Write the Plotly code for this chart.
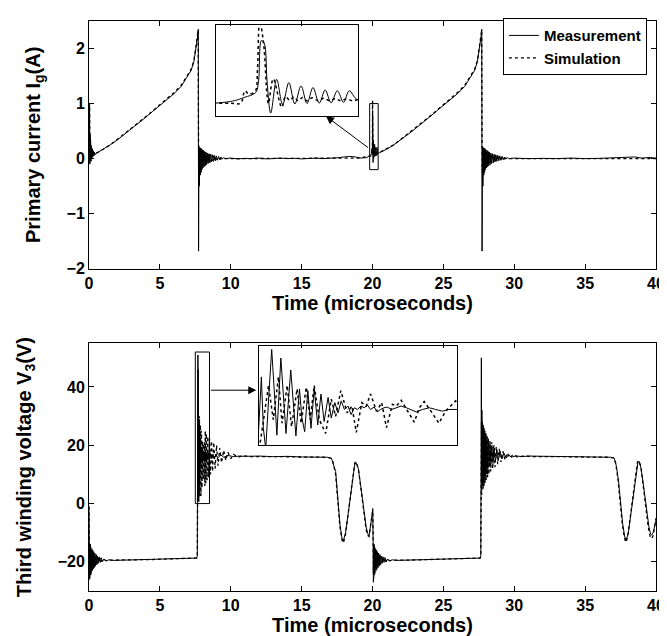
import plotly.graph_objects as go

# ---------------- Primary current I_g (A) ----------------
ig_meas_t = [0, 0.02, 0.04, 0.06, 0.08, 0.10, 0.12, 0.14, 0.17, 0.20, 0.23, 0.26, 0.30, 0.34, 0.38, 0.43, 0.5,
             0.6, 0.8, 1.0, 1.5, 2, 2.5, 3, 3.5, 4, 4.5, 5, 5.5, 6, 6.5, 7, 7.2, 7.4, 7.55, 7.65, 7.71,
             7.73, 7.76, 7.79, 7.82, 7.85, 7.88, 7.91, 7.94, 7.97, 8.0, 8.04, 8.08, 8.12, 8.16, 8.2, 8.25, 8.3,
             8.35, 8.4, 8.46, 8.52, 8.58, 8.64, 8.7, 8.77, 8.84, 8.91, 8.98, 9.06, 9.14, 9.22, 9.3, 9.4, 9.5, 9.6,
             10, 10.5, 11, 11.5, 12, 12.5, 13, 13.5, 14, 14.5, 15, 15.5, 16, 16.5, 17, 17.5, 18, 18.4, 18.8,
             19.2, 19.6, 19.9, 19.95, 19.99, 20.0, 20.01, 20.02, 20.03, 20.043, 20.064, 20.085, 20.107, 20.128,
             20.15, 20.171, 20.192, 20.214, 20.235, 20.256, 20.278, 20.3, 20.32, 20.35,
             20.5, 20.8, 21, 21.5, 22, 22.5, 23, 23.5, 24, 24.5, 25, 25.5, 26, 26.5, 27, 27.2, 27.4, 27.55,
             27.65, 27.71,
             27.73, 27.76, 27.79, 27.82, 27.85, 27.88, 27.91, 27.94, 27.97, 28.0, 28.04, 28.08, 28.12, 28.16,
             28.2, 28.25, 28.3, 28.35, 28.4, 28.46, 28.52, 28.58, 28.64, 28.7, 28.77, 28.84, 28.91, 28.98,
             29.06, 29.14, 29.22, 29.3, 29.4, 29.5, 29.6,
             30, 31, 32, 33, 34, 35, 36, 37, 38, 38.5, 39, 39.5, 40]
ig_meas_v = [0.0, 0.6, 1.0, -0.1, 0.45, -0.08, 0.3, -0.05, 0.22, 0.0, 0.18, 0.03, 0.14, 0.05, 0.12, 0.07, 0.1,
             0.11, 0.14, 0.17, 0.25, 0.34, 0.44, 0.54, 0.64, 0.75, 0.86, 0.97, 1.07, 1.18, 1.31, 1.5, 1.6, 1.76,
             2.0, 2.2, 2.35,
             -1.68, 0.22, -0.5, 0.2, -0.3, 0.19, -0.25, 0.18, -0.2, 0.16, -0.17, 0.15, -0.15, 0.13, -0.13, 0.12,
             -0.11, 0.1, -0.09, 0.09, -0.08, 0.08, -0.06, 0.07, -0.05, 0.06, -0.04, 0.05, -0.03, 0.04, -0.02,
             0.03, -0.01, 0.02, 0.0,
             0.01, -0.005, 0.005, 0.0, 0.01, -0.005, 0.0, 0.01, 0.0, 0.005, -0.005, 0.0, 0.01, 0.0, 0.005, 0.015,
             0.03, 0.04, 0.03, 0.01, 0.02, 0.07, 0.12, 0.18, 0.32, 0.81, 0.78, 0.32, -0.07, 0.34, 0.033, 0.3,
             0.04, 0.26, 0.045, 0.24, 0.05, 0.21, 0.055, 0.2, 0.06, 0.2, 0.09,
             0.11, 0.14, 0.17, 0.25, 0.34, 0.44, 0.54, 0.64, 0.75, 0.86, 0.97, 1.07, 1.18, 1.31, 1.5, 1.6, 1.76,
             2.0, 2.2, 2.35,
             -1.68, 0.22, -0.5, 0.2, -0.3, 0.19, -0.25, 0.18, -0.2, 0.16, -0.17, 0.15, -0.15, 0.13, -0.13, 0.12,
             -0.11, 0.1, -0.09, 0.09, -0.08, 0.08, -0.06, 0.07, -0.05, 0.06, -0.04, 0.05, -0.03, 0.04, -0.02,
             0.03, -0.01, 0.02, 0.0,
             0.01, 0.0, 0.005, 0.0, 0.01, 0.0, 0.005, 0.01, 0.02, 0.03, 0.01, 0.02, 0.01]

ig_sim_t = [0, 0.02, 0.04, 0.06, 0.08, 0.1, 0.13, 0.16, 0.2, 0.24, 0.28, 0.33, 0.38, 0.44, 0.5,
            0.6, 1.0, 1.5, 2, 2.5, 3, 3.5, 4, 4.5, 5, 5.5, 6, 6.5, 7, 7.2, 7.4, 7.55, 7.65, 7.7,
            7.73, 7.76, 7.79, 7.82, 7.86, 7.9, 7.94, 7.98, 8.02, 8.07, 8.12, 8.17, 8.22, 8.28, 8.34, 8.4, 8.47,
            8.54, 8.61, 8.69, 8.77, 8.85, 8.94, 9.03, 9.13, 9.25, 9.4, 9.6,
            10, 11, 12, 13, 14, 15, 16, 17, 18, 19, 19.9,
            19.937, 19.952, 19.966, 19.989, 19.996, 20.004, 20.018, 20.03, 20.035, 20.052, 20.082, 20.095, 20.11,
            20.125, 20.14, 20.155, 20.17, 20.19, 20.21, 20.23, 20.25, 20.27, 20.29, 20.31, 20.33, 20.35,
            20.5, 21.0, 21.5, 22, 22.5, 23, 23.5, 24, 24.5, 25, 25.5, 26, 26.5, 27, 27.2, 27.4, 27.55, 27.65, 27.7,
            27.73, 27.76, 27.79, 27.82, 27.86, 27.9, 27.94, 27.98, 28.02, 28.07, 28.12, 28.17, 28.22, 28.28,
            28.34, 28.4, 28.47, 28.54, 28.61, 28.69, 28.77, 28.85, 28.94, 29.03, 29.13, 29.25, 29.4, 29.6,
            30, 31, 32, 33, 34, 35, 36, 37, 38, 39, 40]
ig_sim_v = [0.0, 0.5, 0.95, 0.0, 0.35, -0.05, 0.25, 0.0, 0.18, 0.04, 0.14, 0.06, 0.11, 0.08, 0.1,
            0.11, 0.17, 0.25, 0.35, 0.45, 0.55, 0.65, 0.76, 0.87, 0.98, 1.09, 1.2, 1.33, 1.52, 1.62, 1.78, 2.02,
            2.22, 2.33,
            0.15, -0.35, 0.17, -0.22, 0.16, -0.18, 0.15, -0.15, 0.14, -0.12, 0.13, -0.1, 0.11, -0.08, 0.1, -0.07,
            0.08, -0.05, 0.07, -0.04, 0.05, -0.03, 0.04, -0.02, 0.03, -0.01, 0.01, 0.0,
            0.0, 0.0, 0.0, 0.0, 0.0, 0.0, 0.0, 0.0, 0.01, 0.01, 0.05,
            0.05, 0.2, 0.16, 0.2, 0.44, 1.05, 0.77, 0.14, 0.045, 0.344, 0.0, 0.13, 0.085, 0.125, 0.08, 0.12, 0.08,
            0.115, 0.08, 0.11, 0.08, 0.105, 0.08, 0.1, 0.08, 0.09,
            0.11, 0.17, 0.25, 0.35, 0.45, 0.55, 0.65, 0.76, 0.87, 0.98, 1.09, 1.2, 1.33, 1.52, 1.62, 1.78, 2.02,
            2.22, 2.33,
            0.15, -0.35, 0.17, -0.22, 0.16, -0.18, 0.15, -0.15, 0.14, -0.12, 0.13, -0.1, 0.11, -0.08, 0.1, -0.07,
            0.08, -0.05, 0.07, -0.04, 0.05, -0.03, 0.04, -0.02, 0.03, -0.01, 0.01, 0.0,
            0.0, 0.0, 0.0, 0.0, 0.0, 0.0, 0.0, 0.01, 0.01, 0.01, 0.0]

# ---------------- Third winding voltage V_3 (V) ----------------
v3_meas_t = [0, 0.02, 0.04, 0.06, 0.08, 0.1, 0.12, 0.14, 0.17, 0.2, 0.23, 0.26, 0.29, 0.33, 0.37, 0.41, 0.45,
             0.5, 0.55, 0.6, 0.66, 0.72, 0.79, 0.87, 0.95, 1.05, 1.2, 1.4, 1.7, 2.5, 3.5, 4.5, 5.5, 6.5, 7.3,
             7.6, 7.64, 7.648,
             7.652, 7.657, 7.662, 7.668, 7.676, 7.683, 7.690, 7.696, 7.706, 7.714, 7.719, 7.731, 7.738, 7.744,
             7.753, 7.759, 7.766, 7.774, 7.782, 7.790, 7.799, 7.807, 7.815, 7.825, 7.833, 7.842, 7.850, 7.858,
             7.866, 7.875, 7.883, 7.891, 7.899, 7.908, 7.916, 7.924, 7.932, 7.941, 7.949, 7.957, 7.966, 7.974,
             7.985, 7.997, 8.009, 8.022, 8.034, 8.047, 8.063, 8.080, 8.096, 8.113, 8.129, 8.150,
             8.17, 8.2, 8.24, 8.28, 8.33, 8.38, 8.44, 8.5, 8.57, 8.65, 8.74, 8.84, 8.95, 9.1, 9.3, 9.5, 9.8,
             10.2, 10.6, 11, 12, 13, 14, 15, 16, 16.8, 17.1, 17.3, 17.4, 17.55, 17.7, 17.85, 17.93, 18.1, 18.3,
             18.5, 18.65, 18.75, 18.84, 19.0, 19.2, 19.4, 19.55, 19.68, 19.76, 19.88, 19.97, 20.02,
             20.04, 20.06, 20.08, 20.1, 20.12, 20.14, 20.16, 20.19, 20.22, 20.25, 20.28, 20.31, 20.35, 20.39,
             20.43, 20.47, 20.52, 20.57, 20.62, 20.68, 20.74, 20.81, 20.89, 20.97, 21.07, 21.2, 21.4, 21.7,
             22.5, 23.5, 24.5, 25.5, 26.5, 27.3, 27.6, 27.64, 27.66, 27.68, 27.7, 27.72, 27.74, 27.76, 27.78,
             27.8, 27.83, 27.86, 27.89, 27.92, 27.96, 28.0, 28.04, 28.08, 28.13, 28.18, 28.23, 28.29, 28.35,
             28.42, 28.5, 28.58, 28.67, 28.77, 28.88, 29.0, 29.13, 29.27, 29.43, 29.6, 29.8, 30.1, 30.5, 31,
             32, 33, 34, 35, 36, 36.8, 37.05, 37.2, 37.35, 37.5, 37.65, 37.8, 37.9, 38.05, 38.25, 38.45, 38.6,
             38.72, 38.8, 38.95, 39.15, 39.35, 39.5, 39.62, 39.7, 39.8, 39.9, 40]
v3_meas_v = [-1, -10, -26, -13, -25, -14, -24.5, -15, -23.5, -15.5, -23, -16, -22.5, -16.5, -22, -17, -21.5,
             -17.5, -21, -18, -20.5, -18.3, -20.2, -18.6, -20, -19, -19.7, -19.3, -19.5, -19.4, -19.3, -19.2,
             -19.1, -18.9, -18.8, -18.7, -18.0, -5,
             15, 35, 5, -7, 25, 51, 25, 1, 46, 15, 2, 39, 15, 0.6, 28, 11, 3, 27, 5, 28, 7, 25, 9, 23, 11, 20,
             14, 21, 16, 18, 13, 17, 16, 18, 17, 18.6, 16, 17.4, 14.6, 16, 17, 17.4, 16, 17, 18, 17, 16, 14.6,
             16, 17, 16, 15, 16, 16,
             17.5, 14.5, 17.8, 14.8, 17.5, 15, 17.3, 15.2, 17.2, 15.4, 17, 15.5, 16.9, 15.7, 16.7, 15.9, 16.5,
             16.1, 16.3, 16.2, 16.3, 16.1, 16.2, 16.0, 16.0, 15.9, 15.6, 13, 11, 2, -7, -12, -13, -10, -3,
             5, 11, 13.5, 14, 12, 5, -3, -8, -10.5, -11, -7, -3, -1.7,
             -12, -27, -13, -25, -14, -24.5, -15, -23.5, -15.5, -23, -16, -22.5, -16.5, -22, -17, -21.5, -17.5,
             -21, -18, -20.5, -18.3, -20.2, -18.6, -20, -19, -19.7, -19.3, -19.5,
             -19.4, -19.3, -19.2, -19.1, -18.9, -18.8, -18.7, -18.0, -2, 50, 8, 32, 6, 28, 7,
             27, 8, 26, 9, 25, 10, 24, 11, 23, 12, 22, 13, 21, 13.5,
             20, 14, 19, 14.5, 18.5, 15, 18, 15.3, 17.3, 15.6, 16.8, 15.9, 16.4, 16.1, 16.3,
             16.2, 16.1, 16.1, 16.0, 16.0, 15.9, 15.6, 13, 8, 0, -7, -11.5, -12.5, -10, -3, 5, 11,
             14, 14.5, 12, 5, -3, -8, -10.5, -10.8, -10, -8, -5.7]

v3_sim_t = [0, 0.02, 0.04, 0.07, 0.1, 0.13, 0.16, 0.2, 0.24, 0.28, 0.33, 0.38, 0.44, 0.5, 0.57, 0.64, 0.72,
            0.8, 0.9, 1.0, 1.2, 1.5, 2.5, 3.5, 4.5, 5.5, 6.5, 7.3, 7.6, 7.64, 7.655,
            7.662, 7.675, 7.687, 7.700, 7.709, 7.722, 7.733, 7.747, 7.757, 7.770, 7.780, 7.790, 7.803, 7.819,
            7.833, 7.844, 7.857, 7.873, 7.885, 7.896, 7.910, 7.921, 7.932, 7.947, 7.960, 7.972, 7.987, 7.997,
            8.009, 8.026, 8.042, 8.055, 8.067, 8.084, 8.104, 8.121, 8.137, 8.146, 8.150,
            8.17, 8.2, 8.24, 8.28, 8.33, 8.38, 8.44, 8.5, 8.57, 8.64, 8.72, 8.8, 8.9, 9.0, 9.1, 9.22, 9.35,
            9.5, 9.65, 9.8, 10.0, 10.2, 10.5, 10.8, 11.5, 12.5, 13.5, 14.5, 15.5, 16.5, 17.0, 17.2, 17.4,
            17.55, 17.7, 17.85, 17.95, 18.1, 18.3, 18.5, 18.65, 18.75, 18.84, 19.0, 19.2, 19.4, 19.55, 19.68,
            19.76, 19.88, 19.97, 20.02, 20.04, 20.06, 20.09, 20.12, 20.15, 20.18, 20.22, 20.26, 20.3, 20.35,
            20.4, 20.46, 20.52, 20.59, 20.66, 20.74, 20.82, 20.92, 21.02, 21.2, 21.5, 22.5, 23.5, 24.5, 25.5,
            26.5, 27.3, 27.6, 27.64, 27.67, 27.69, 27.71, 27.73, 27.75, 27.78, 27.81, 27.84, 27.87, 27.9,
            27.94, 27.98, 28.02, 28.07, 28.12, 28.17, 28.22, 28.28, 28.34, 28.41, 28.48, 28.56, 28.64, 28.73,
            28.83, 28.94, 29.06, 29.2, 29.35, 29.5, 29.7, 29.9, 30.2, 30.6, 31.5, 32.5, 33.5, 34.5, 35.5,
            36.5, 37.0, 37.15, 37.3, 37.45, 37.6, 37.75, 37.88, 38.0, 38.2, 38.4, 38.55, 38.68, 38.78, 38.92,
            39.1, 39.3, 39.45, 39.6, 39.7, 39.8, 39.9, 40]
v3_sim_v = [-1, -8, -24, -14, -23, -15, -22.5, -16, -22, -16.5, -21.5, -17, -21, -17.5, -20.5, -18, -20.2,
            -18.5, -19.9, -19, -19.6, -19.4, -19.4, -19.3, -19.2, -19.0, -18.9, -18.8, -18.7, -18, -2,
            10, 30, 10, 35, 8, 30, 6, 28, 8, 29, 10, 30, 10, 2, 22, 12, 27, 14, 18, 2.6, 20, 18, 25, 15, 20,
            5.4, 19, 18, 21.4, 15, 8.6, 17, 20.6, 15, 8, 15, 19, 21, 20,
            6, 25, 7, 24, 8, 23, 9, 22.5, 10, 21.5, 11, 21, 12, 20, 13, 19, 14, 18.3, 14.8,
            17.6, 15.4, 16.9, 15.9, 16.4, 16.1, 16.2, 16.1, 16.0, 16.0, 15.9, 15.7, 14.5, 10, 1, -8, -12.5,
            -13.5, -10.5, -3, 5.5, 11.5, 14, 14.3, 12, 4.5, -4, -9, -11, -11.3, -7, -3, -2.5, -10, -24, -14,
            -23, -15, -22.5, -16, -22, -16.5, -21.5, -17, -21, -17.5, -20.5, -18, -20.2, -18.5, -19.9, -19,
            -19.6, -19.4, -19.4, -19.3, -19.2, -19.0, -18.9, -18.8, -18.7, -18, 0, 28, 3, 27, 4, 26, 5, 25.5,
            6, 25, 7, 24, 8, 23, 9, 22.5, 10, 21.5, 11, 21, 12, 20, 12.5, 19.5, 13.5, 18.8, 14.3, 18, 15,
            17.4, 15.6, 16.8, 16.0, 16.3, 16.1, 16.2, 16.1, 16.0, 16.0, 15.9, 15.7, 14, 9, 1, -6, -11.5,
            -13.3, -11.5, -4, 4.5, 10.5, 14, 14.8, 13, 6, -2, -8, -11.5, -12, -11, -8.5, -5]

x_ticks = [0, 5, 10, 15, 20, 25, 30, 35, 40]
ig_ticks = [-2, -1, 0, 1, 2]
v3_ticks = [-20, 0, 20, 40]

FONT = "Liberation Sans, Arial, Helvetica, sans-serif"
tickfont = dict(family=FONT, size=16, color="black", weight="bold")
titlefont = dict(family=FONT, size=20, color="black", weight="bold")

fig = go.Figure()

solid = dict(color="black", width=1)
dotted = dict(color="black", width=1.3, dash="dot")

# main top
fig.add_trace(go.Scatter(x=ig_meas_t, y=ig_meas_v, mode="lines", line=solid, name="Measurement",
                         xaxis="x", yaxis="y"))
fig.add_trace(go.Scatter(x=ig_sim_t, y=ig_sim_v, mode="lines", line=dotted, name="Simulation",
                         xaxis="x", yaxis="y"))
# main bottom
fig.add_trace(go.Scatter(x=v3_meas_t, y=v3_meas_v, mode="lines", line=solid, showlegend=False,
                         xaxis="x2", yaxis="y2"))
fig.add_trace(go.Scatter(x=v3_sim_t, y=v3_sim_v, mode="lines", line=dotted, showlegend=False,
                         xaxis="x2", yaxis="y2"))
# inset top
fig.add_trace(go.Scatter(x=ig_meas_t, y=ig_meas_v, mode="lines", line=dict(color="black", width=1),
                         line_shape="spline", showlegend=False, xaxis="x3", yaxis="y3"))
fig.add_trace(go.Scatter(x=ig_sim_t, y=ig_sim_v, mode="lines", line=dict(color="black", width=1.5, dash="dot"),
                         line_shape="spline", showlegend=False, xaxis="x3", yaxis="y3"))
# inset bottom
fig.add_trace(go.Scatter(x=v3_meas_t, y=v3_meas_v, mode="lines", line=dict(color="black", width=1),
                         showlegend=False, xaxis="x4", yaxis="y4"))
fig.add_trace(go.Scatter(x=v3_sim_t, y=v3_sim_v, mode="lines", line=dict(color="black", width=1.5, dash="dot"),
                         showlegend=False, xaxis="x4", yaxis="y4"))

def main_x(anchor):
    return dict(domain=[0, 1], anchor=anchor, range=[0, 40], tickvals=x_ticks, ticks="inside", ticklen=5,
                tickcolor="black", showline=True, linecolor="black", linewidth=1, mirror="ticks",
                showgrid=False, zeroline=False, tickfont=tickfont,
                title=dict(text="Time (microseconds)", font=titlefont, standoff=4))

def main_y(domain, anchor, rng, tv, title):
    return dict(domain=domain, anchor=anchor, range=rng, tickvals=tv, ticks="inside",
                ticklen=5, tickcolor="black", showline=True, linecolor="black", linewidth=1, mirror="ticks",
                showgrid=False, zeroline=False, tickfont=tickfont,
                title=dict(text=title, font=titlefont, standoff=20))

def inset_axis(domain, rng, anchor):
    return dict(domain=domain, range=rng, anchor=anchor, showline=True, mirror=True, linecolor="black",
                linewidth=1, showticklabels=False, ticks="", showgrid=False, zeroline=False)

fig.update_layout(
    width=667, height=636,
    margin=dict(l=81, r=10, t=10, b=53),
    paper_bgcolor="white", plot_bgcolor="rgba(0,0,0,0)",
    xaxis=main_x("y"),
    yaxis=main_y([0.5654, 1.0], "x", [-2, 2.5], ig_ticks, "Primary current I<sub>g</sub>(A)"),
    xaxis2=main_x("y2"),
    yaxis2=main_y([0, 0.4346], "x2", [-30, 55], v3_ticks, "Third winding voltage V<sub>3</sub>(V)"),
    xaxis3=inset_axis([0.224, 0.474], [19.85, 20.35], "y3"),
    yaxis3=inset_axis([0.8342, 0.993], [-0.1, 1.0], "x3"),
    xaxis4=inset_axis([0.2991, 0.6493], [7.65, 8.15], "y4"),
    yaxis4=inset_axis([0.2553, 0.4298], [-5, 53], "x4"),
    legend=dict(x=0.984, xanchor="right", y=1.005, yanchor="top", bgcolor="white", bordercolor="black",
                borderwidth=1, font=dict(family=FONT, size=15, color="black", weight="bold"),
                tracegroupgap=0, itemwidth=30),
    showlegend=True,
)

# zoom rectangles
fig.add_shape(type="rect", xref="x", yref="y", x0=19.8, x1=20.4, y0=-0.2, y1=1.0,
              line=dict(color="black", width=1))
fig.add_shape(type="rect", xref="x2", yref="y2", x0=7.5, x1=8.5, y0=0, y1=52,
              line=dict(color="black", width=1))

# arrows
fig.add_annotation(x=16.72, y=0.77, ax=19.79, ay=0.18, xref="x", yref="y", axref="x", ayref="y",
                   showarrow=True, arrowhead=2, arrowsize=1.6, arrowwidth=1, arrowcolor="black", text="")
fig.add_annotation(x=11.8, y=38.9, ax=8.5, ay=38.9, xref="x2", yref="y2", axref="x2", ayref="y2",
                   showarrow=True, arrowhead=2, arrowsize=1.6, arrowwidth=1, arrowcolor="black", text="")

fig.write_html("out.html")
